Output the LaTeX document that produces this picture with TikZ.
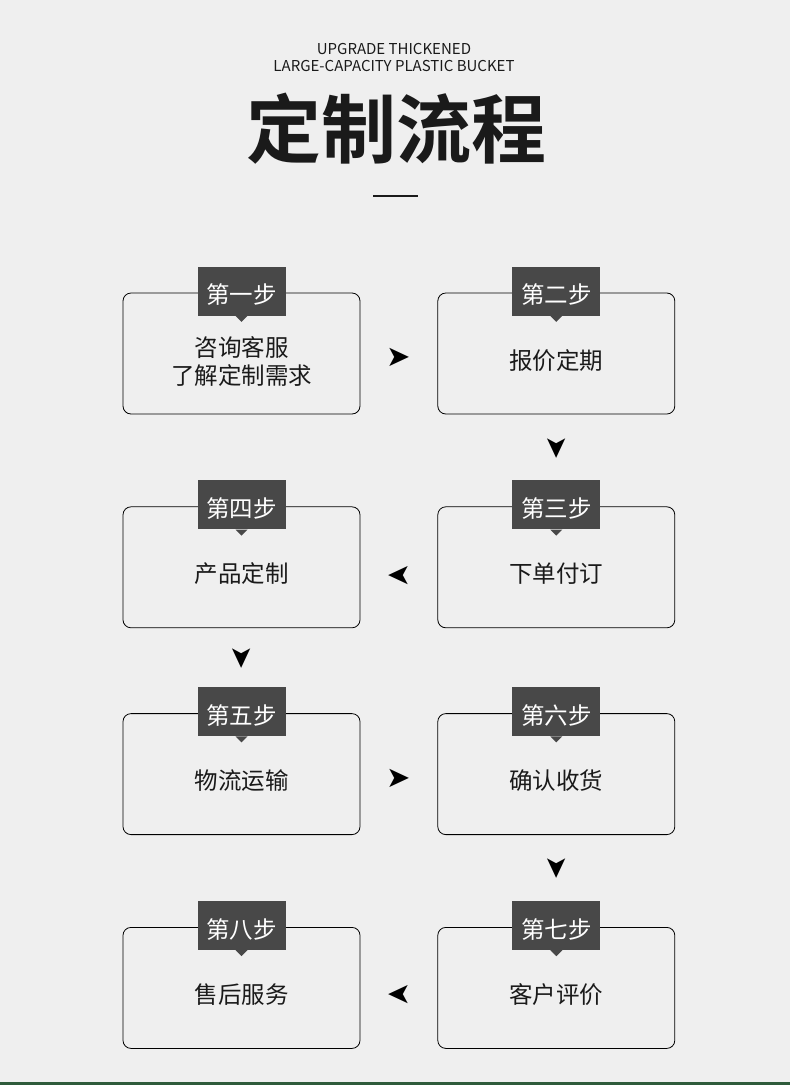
\documentclass[tikz,border=0pt]{standalone}
\usepackage{fontspec}
\setmainfont{Noto Sans CJK SC}
\newfontfamily\titlefont{Noto Sans CJK SC Bold}
\newfontfamily\symfont{DejaVu Sans}
\usetikzlibrary{positioning}

\definecolor{pagebg}{HTML}{EFEFEF}
\definecolor{tagfill}{HTML}{484848}
\definecolor{inkcol}{HTML}{1A1A1A}
\definecolor{stripgreen}{HTML}{2F5B3B}

\begin{document}
\begin{tikzpicture}[
    x=1pt, y=-1pt,
    stepbox/.style={draw=black, line width=0.8pt, rounded corners=8pt, minimum width=237pt, minimum height=121pt, align=center, text=inkcol, text height=31pt, text depth=0pt, font=\fontsize{23.5}{28}\selectfont},
    tagbox/.style={fill=tagfill, minimum width=88pt, minimum height=49pt, inner sep=0pt, text=white, text height=25pt, text depth=0pt, font=\fontsize{23.5}{26}\selectfont},
    head/.style={font=\fontsize{15}{17}\selectfont, text=inkcol, align=center},
    arrowhead/.style={sloped, allow upside down, inner sep=0pt, font=\symfont\fontsize{29}{29}\selectfont}
]
    % page
    \fill[pagebg] (0,0) rectangle (790,1085);
    \fill[stripgreen] (0,1082) rectangle (790,1085);
    \useasboundingbox (0,0) rectangle (790,1085);

    % heading
    \node[head] (sub) at (394,57.5) {UPGRADE THICKENED\\LARGE-CAPACITY PLASTIC BUCKET};
    \node[text=inkcol, font=\titlefont\fontsize{75}{75}\selectfont] (title) at (396,129) {定制流程};
    \draw[inkcol, line width=1.1pt] (373,196) -- (418,196);

    % steps
    \node[stepbox, text height=61pt, text depth=0pt] (step1) at (241.5,353.5) {咨询客服\\了解定制需求};
    \node[stepbox, right=77pt of step1] (step2) {报价定期};
    \node[stepbox, below=92pt of step2] (step3) {下单付订};
    \node[stepbox, left=77pt of step3] (step4) {产品定制};
    \node[stepbox, below=85pt of step4] (step5) {物流运输};
    \node[stepbox, right=77pt of step5] (step6) {确认收货};
    \node[stepbox, below=92pt of step6] (step7) {客户评价};
    \node[stepbox, left=77pt of step7] (step8) {售后服务};

    \foreach \i/\t in {1/第一步, 2/第二步, 3/第三步, 4/第四步, 5/第五步, 6/第六步, 7/第七步, 8/第八步} {
        \node[tagbox] (tag\i) at ([yshift=1.5pt]step\i.north) {\t};
        \fill[tagfill] ([xshift=-6pt]tag\i.south) -- ([yshift=-6pt]tag\i.south) -- ([xshift=6pt]tag\i.south) -- cycle;
    }

    % arrows
    \path ([yshift=-4pt]step1.east) -- node[arrowhead]{➤} ([yshift=-4pt]step2.west);
    \path (step2.south) -- node[arrowhead]{➤} (tag3.north);
    \path ([yshift=-8pt]step3.west) -- node[arrowhead]{➤} ([yshift=-8pt]step4.east);
    \path (step4.south) -- node[arrowhead]{➤} (tag5.north);
    \path ([yshift=-4pt]step5.east) -- node[arrowhead]{➤} ([yshift=-4pt]step6.west);
    \path (step6.south) -- node[arrowhead]{➤} (tag7.north);
    \path ([yshift=-7pt]step7.west) -- node[arrowhead]{➤} ([yshift=-7pt]step8.east);
\end{tikzpicture}
\end{document}
